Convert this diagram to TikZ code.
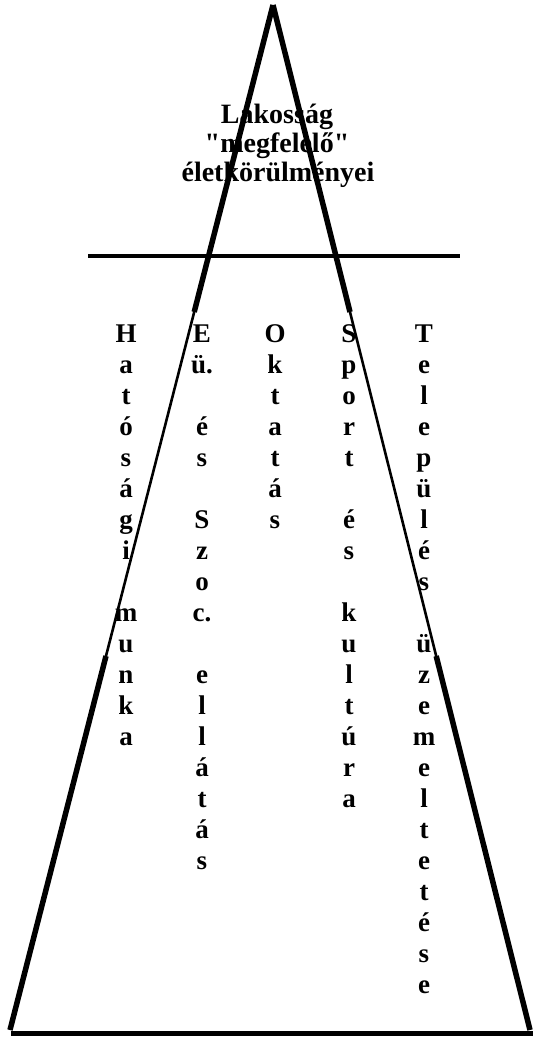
\documentclass[tikz,border=0pt]{standalone}
\usepackage{fontspec}
\setmainfont{Liberation Serif}[Ligatures=TeXOff]
\begin{document}
\begin{tikzpicture}[x=1pt,y=-1pt,
  thickline/.style={line width=5.5pt,line cap=butt},
  thinline/.style={line width=2.6pt},
  title/.style={font=\fontsize{28}{29}\selectfont\bfseries,anchor=base,inner sep=0pt},
  letter/.style={font=\fontsize{27}{31}\selectfont\bfseries,anchor=base,inner sep=0pt}]
\useasboundingbox (0,0) rectangle (533,1037);
\fill[white] (0,0) rectangle (533,1037);
% triangle coordinates
\coordinate (apex) at (273,5);
\coordinate (l1) at (194.2,312);
\coordinate (l2) at (106,656);
\coordinate (lb) at (10,1030);
\coordinate (r1) at (350,312);
\coordinate (r2) at (436.2,656);
\coordinate (rb) at (530,1030);
\coordinate (hl) at (88,256);
\coordinate (hr) at (460,256);
\coordinate (bl) at (11,1033);
\coordinate (br) at (533,1033);
% sides
\draw[thickline] (apex) -- (l1);
\draw[thinline] (l1) -- (l2);
\draw[thickline] (l2) -- (lb);
\draw[thickline] (apex) -- (r1);
\draw[thinline] (r1) -- (r2);
\draw[thickline] (r2) -- (rb);
\draw[line width=4pt] (hl) -- (hr);
\draw[line width=5pt] (bl) -- (br);
% title
\node[title] (t1) at (277,123) {Lakosság};
\node[title] (t2) at (277,152) {"megfelelő"};
\node[title] (t3) at (278,181) {életkörülményei};
% columns
\foreach \ch [count=\i from 0] in {H,a,t,ó,s,á,g,i,{},m,u,n,k,a}
  \node[letter] (ha\i) at (126,{342+31*\i}) {\ch};
\foreach \ch [count=\i from 0] in {E,ü.,{},é,s,{},S,z,o,c.,{},e,l,l,á,t,á,s}
  \node[letter] (eu\i) at (202,{342+31*\i}) {\ch};
\foreach \ch [count=\i from 0] in {O,k,t,a,t,á,s}
  \node[letter] (ok\i) at (275,{342+31*\i}) {\ch};
\foreach \ch [count=\i from 0] in {S,p,o,r,t,{},é,s,{},k,u,l,t,ú,r,a}
  \node[letter] (sp\i) at (349,{342+31*\i}) {\ch};
\foreach \ch [count=\i from 0] in {T,e,l,e,p,ü,l,é,s,{},ü,z,e,m,e,l,t,e,t,é,s,e}
  \node[letter] (te\i) at (424,{342+31*\i}) {\ch};
\end{tikzpicture}
\end{document}
